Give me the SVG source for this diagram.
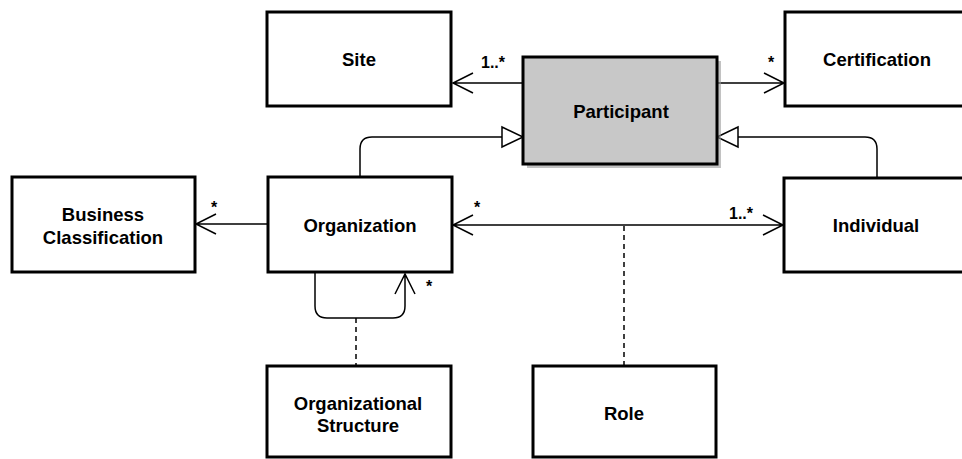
<svg xmlns="http://www.w3.org/2000/svg" width="962" height="459" viewBox="0 0 962 459">
<style>
.box{fill:#fff;stroke:#000;stroke-width:3}
.part{fill:#c8c8c8;stroke:#000;stroke-width:3}
.t{font-family:"Liberation Sans",Arial,sans-serif;font-weight:bold;font-size:18.5px;text-anchor:middle;fill:#000}
.lbl{font-family:"Liberation Sans",Arial,sans-serif;font-weight:bold;font-size:16px;fill:#000}
.ln{fill:none;stroke:#000;stroke-width:1.5}
.dash{fill:none;stroke:#000;stroke-width:1.5;stroke-dasharray:5,4}
.tri{fill:#fff;stroke:#000;stroke-width:1.5}
</style>
<rect width="962" height="459" fill="#fff"/>
<g id="connectors">
<path class="ln" d="M523,83 H453 M473,73 L453,83 L473,93"/>
<path class="ln" d="M717,83 H784 M764,73 L784,83 L764,93"/>
<path class="ln" d="M360,177 V149 Q360,137 372,137 H502"/>
<polygon class="tri" points="502,127 523,137 502,147"/>
<path class="ln" d="M877,178 V149 Q877,137 865,137 H738"/>
<polygon class="tri" points="738,127 717,137 738,147"/>
<path class="ln" d="M268,224 H196 M216,214 L196,224 L216,234"/>
<path class="ln" d="M453,225 H783 M473,215 L453,225 L473,235 M763,215 L783,225 L763,235"/>
<path class="ln" d="M315,273 V306 Q315,318 327,318 H393 Q405,318 405,306 V274 M395,294 L405,274 L415,294"/>
<path class="dash" d="M356,318 V366"/>
<path class="dash" d="M624,226 V366"/>
<text class="lbl" x="481" y="68">1..*</text>
<text class="lbl" x="768" y="68">*</text>
<text class="lbl" x="211" y="213">*</text>
<text class="lbl" x="474" y="213">*</text>
<text class="lbl" x="729" y="219">1..*</text>
<text class="lbl" x="426" y="292">*</text>
</g>
<g id="site"><rect class="box" x="267" y="12" width="184" height="94"/><text class="t" x="359" y="66">Site</text></g>
<g id="participant"><rect x="527" y="61" width="194" height="107" fill="#999" opacity="0.6"/><rect class="part" x="523" y="57" width="194" height="107"/><text class="t" x="621" y="118">Participant</text></g>
<g id="certification"><rect class="box" x="785" y="12" width="184" height="94"/><text class="t" x="877" y="66">Certification</text></g>
<g id="business"><rect class="box" x="12" y="177" width="183" height="95"/><text class="t" x="103" y="221">Business</text><text class="t" x="103" y="244">Classification</text></g>
<g id="organization"><rect class="box" x="268" y="177" width="184" height="95"/><text class="t" x="360" y="232">Organization</text></g>
<g id="individual"><rect class="box" x="784" y="178" width="184" height="94"/><text class="t" x="876" y="232">Individual</text></g>
<g id="orgstructure"><rect class="box" x="267" y="366" width="184" height="91"/><text class="t" x="358" y="410">Organizational</text><text class="t" x="358" y="432">Structure</text></g>
<g id="role"><rect class="box" x="533" y="366" width="183" height="91"/><text class="t" x="624" y="420">Role</text></g>
</svg>
